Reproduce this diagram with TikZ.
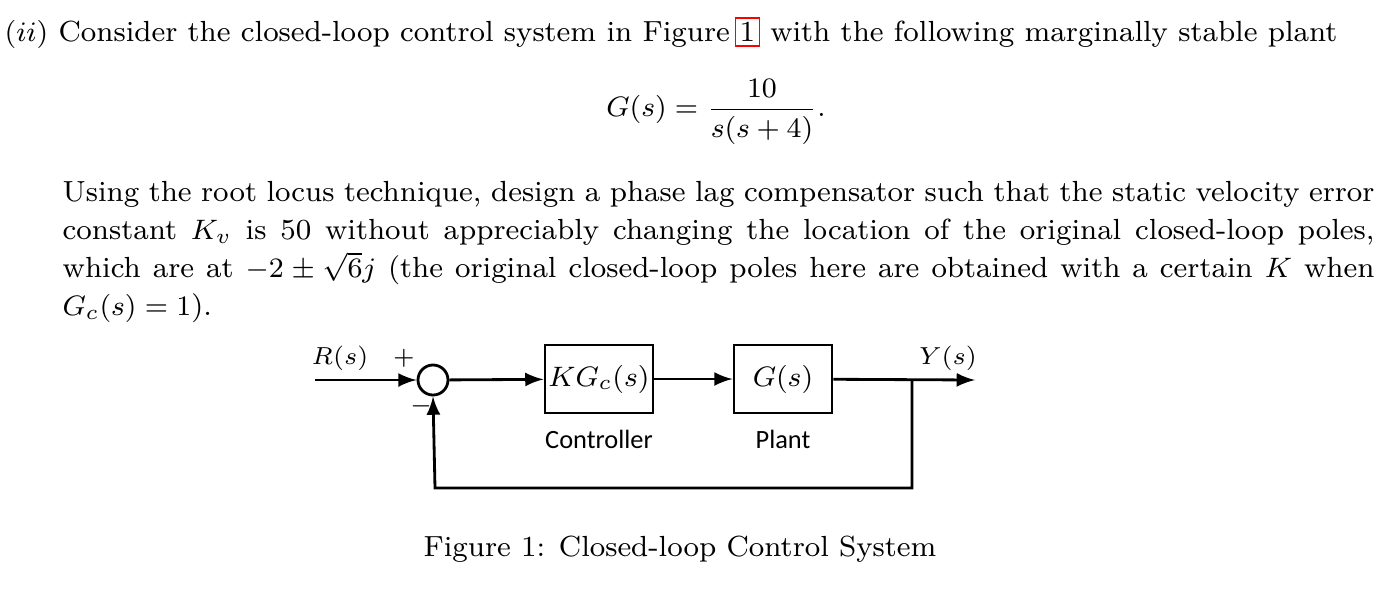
\documentclass[tikz,border=0pt]{standalone}
\usepackage{amsmath}
\usepackage{fontspec}
\newfontfamily\calib{Carlito}
\usetikzlibrary{arrows,positioning}
\newcommand{\redbox}[1]{{\color{red}\setlength{\fboxsep}{1pt}\fbox{\color{black}#1}}}
\begin{document}
\begin{tikzpicture}[x=0.01cm,y=-0.01cm,>=latex,
    block/.style={rectangle, draw, thick, minimum width=0.98cm, minimum height=0.68cm, inner sep=1pt, font=\calib\fontsize{8}{9}\selectfont},
    sumnode/.style={circle, draw, thick, minimum size=0.3cm, inner sep=0pt},
    lab/.style={font=\calib\fontsize{7.5}{9}\selectfont},
    body/.style={font=\fontsize{8.28}{10.8}\selectfont}]
  \useasboundingbox (0,0) rectangle (1387,590);

  % text
  \node[anchor=west, inner sep=0pt, body] (head) at (4,33)
    {$(ii)$ Consider the closed-loop control system in Figure\,\redbox{1} with the following marginally stable plant};
  \node[inner sep=0pt, body] (eq) at (716,112)
    {$\displaystyle G(s)=\frac{10}{s(s+4)}.$};
  \node[anchor=north west, inner sep=0pt, text width=13.11cm, align=justify, body] (para) at (62,181)
    {Using the root locus technique, design a phase lag compensator such that the static velocity error constant $K_v$ is 50 without appreciably changing the location of the original closed-loop poles, which are at $-2\pm\sqrt{6}j$ (the original closed-loop poles here are obtained with a certain $K$ when $G_c(s)=1$).};

  % diagram
  \coordinate (in) at (315,380);
  \node[sumnode] (sum) at (433,380) {};
  \node[block] (ctrl) at (599,379) {$KG_c(s)$};
  \node[block] (plant) at (783,379) {$G(s)$};
  \coordinate (branch) at (912,380);
  \coordinate (out) at (975,380);
  \coordinate (c1) at (912,488);
  \coordinate (c2) at (435,488);

  \draw[thick,->] (in) -- (sum);
  \draw[thick,->] (sum) -- (ctrl);
  \draw[thick,->] (ctrl) -- (plant);
  \draw[thick,->] (plant) -- (out);
  \draw[thick,->] (branch) -- (c1) -- (c2) -- (sum.south);

  \node[lab] (rs) at (340,358) {$R(s)$};
  \node[lab] (plus) at (404,358) {$+$};
  \node[lab] (minus) at (421,406) {$-$};
  \node[lab] (ys) at (948,358) {$Y(s)$};
  \node[lab, below=0.03cm of ctrl] (ctrllab) {Controller};
  \node[lab, below=0.03cm of plant] (plantlab) {Plant};

  \node[body] (cap) at (680,549) {Figure 1: Closed-loop Control System};
\end{tikzpicture}
\end{document}
